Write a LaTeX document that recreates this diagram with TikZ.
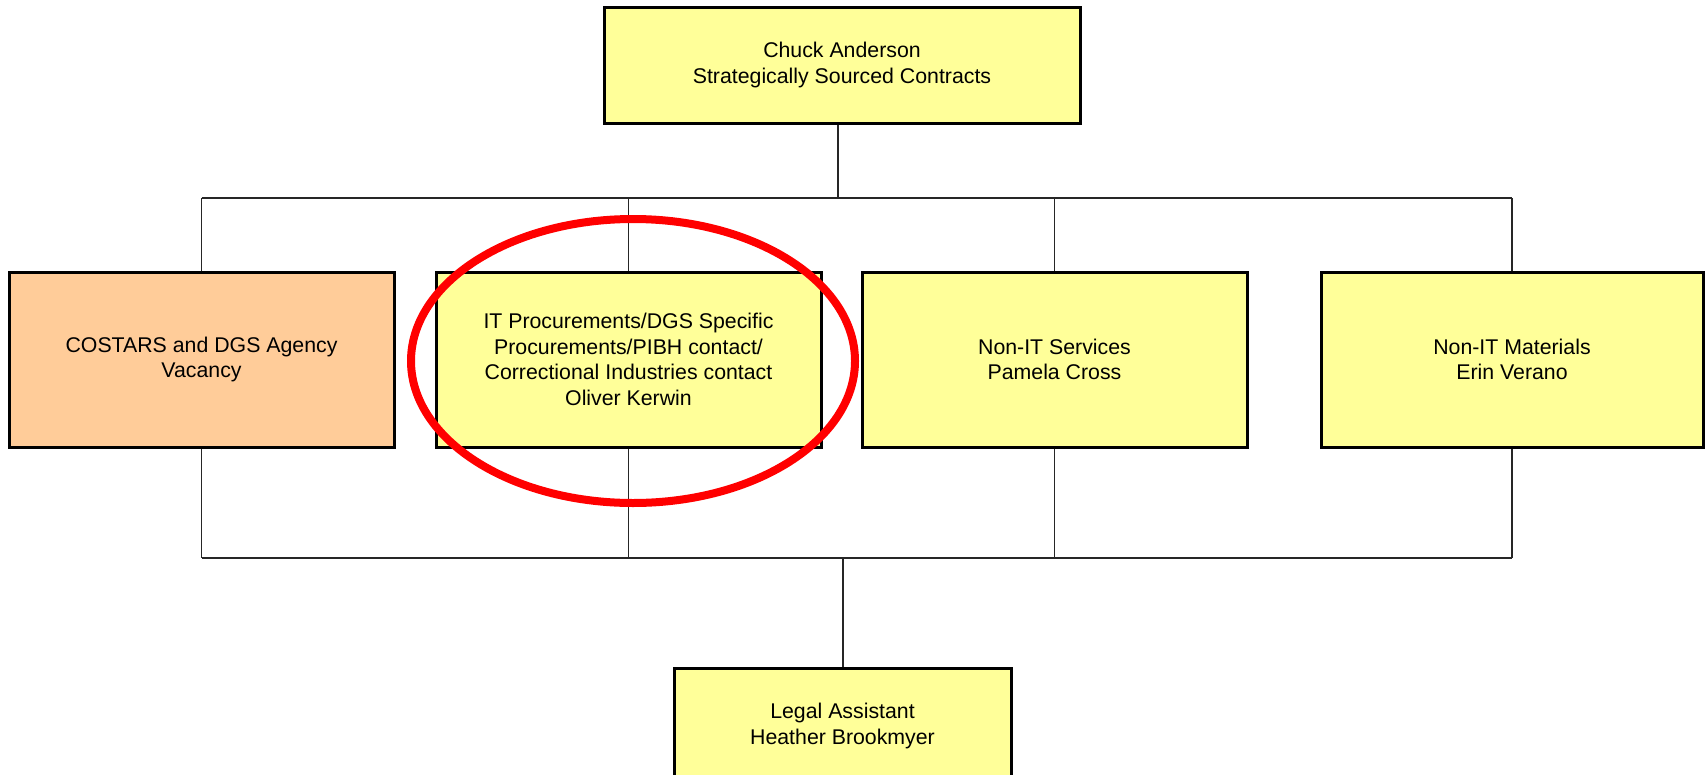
\documentclass[tikz,border=0pt]{standalone}
\usepackage{fontspec}
\setmainfont{Liberation Sans}
\definecolor{boxyellow}{HTML}{FFFF99}
\definecolor{boxorange}{HTML}{FFCC99}
\definecolor{markred}{HTML}{FF0000}
\begin{document}
\begin{tikzpicture}[x=1pt,y=-1pt,
  box/.style={draw=black, line width=3pt, fill=boxyellow, align=center,
    font=\fontsize{21.3}{25.7}\selectfont, inner sep=0pt,
    minimum width=385pt, minimum height=175pt},
  conn/.style={line width=1.4pt, draw=black!85}]
\useasboundingbox (0,0) rectangle (1705,774);
\fill[white] (0,0) rectangle (1705,774);
% nodes
\node[box, minimum width=476pt, minimum height=116pt] (top) at (842,65)
  {Chuck Anderson\\Strategically Sourced Contracts};
\node[box, fill=boxorange] (cost) at (201.5,359.5)
  {COSTARS and DGS Agency\\Vacancy};
\node[box] (it) at (628.5,359.5)
  {IT Procurements/DGS Specific\\Procurements/PIBH contact/\\Correctional Industries contact\\Oliver Kerwin};
\node[box] (svc) at (1054.5,359.5) {Non-IT Services\\Pamela Cross};
\node[box, minimum width=382pt] (mat) at (1512,359.5) {Non-IT Materials\\Erin Verano};
\node[box, minimum width=337pt, minimum height=116pt] (legal) at (842.5,726)
  {Legal Assistant\\Heather Brookmyer};
% connector hubs
\coordinate (hubT) at (838,198);
\coordinate (hubB) at (843,558);
% top connectors
\draw[conn] (top.south -| hubT) -- (hubT);
\draw[conn] (cost.north |- hubT) -- (mat.north |- hubT);
\foreach \n in {cost,it,svc,mat} \draw[conn] (\n.north |- hubT) -- (\n.north);
% bottom connectors
\foreach \n in {cost,it,svc,mat} \draw[conn] (\n.south) -- (\n.south |- hubB);
\draw[conn] (cost.south |- hubB) -- (mat.south |- hubB);
\draw[conn] (hubB) -- (legal.north -| hubB);
% red highlight ellipse
\draw[markred, line width=8pt] (633,361) ellipse [x radius=222, y radius=142];
\end{tikzpicture}
\end{document}
